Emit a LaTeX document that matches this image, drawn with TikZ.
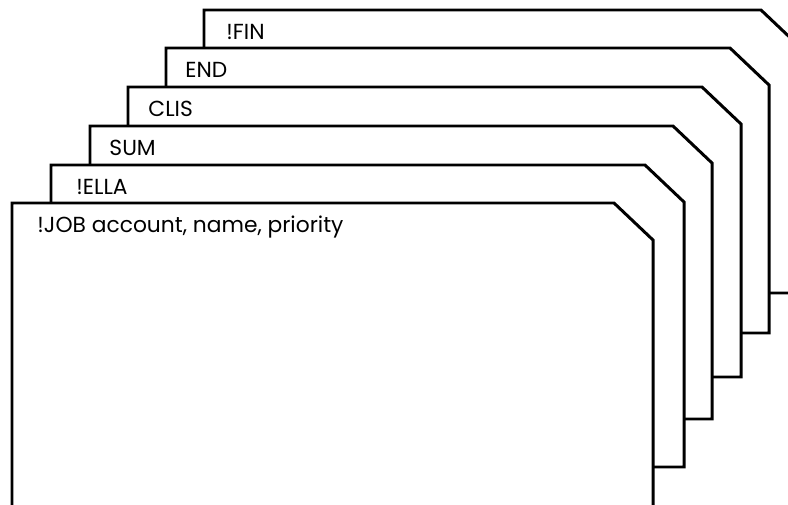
\documentclass[tikz,border=0pt]{standalone}
\usepackage{fontspec}
\setmainfont{Poppins}
\begin{document}
\begin{tikzpicture}[x=0.02cm,y=-0.02cm,line width=1.7pt,
  carte/.style={draw=black,fill=white,line join=miter},
  titre/.style={anchor=base west,inner sep=0pt,font=\fontsize{12.4}{14}\selectfont}]%{{{
\useasboundingbox (0,0) rectangle (788,504);
\clip (0,0) rectangle (788,504);
%
% Paquet de cartes (de la derniere a la premiere)
\foreach \g/\h/\d/\b/\tx/\nom/\txt in {
      204/10/800/293/225/fin/{!FIN},
      166/48/769/333/184/end/{END},
      128/87/741/377/147/clis/{CLIS},
      90/126/712/419/108/sum/{SUM},
      51/165/684/467/75/ella/{!ELLA},
      12/203/653/530/36/job/{!JOB account, name, priority}}
{
  \draw [carte] (\g,\b) -- (\g,\h)
            -- (\d-39,\h) -- (\d,\h+37)
            -- (\d,\b)    -- cycle;
  \node [titre] (\nom) at (\tx,\h+29) {\txt};
}
%
\end{tikzpicture}
\end{document}
